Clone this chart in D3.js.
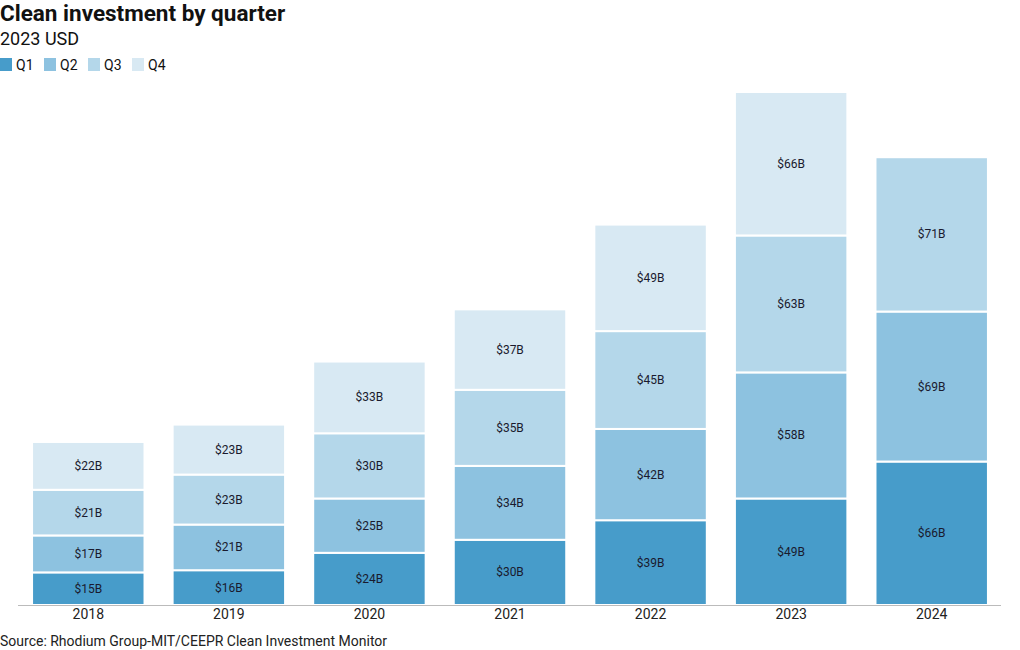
<!DOCTYPE html>
<html><head><meta charset="utf-8">
<script src="https://cdn.jsdelivr.net/npm/d3@7"></script>
<style>body{margin:0;background:#fff;font-family:Roboto,sans-serif}</style>
</head><body>
<svg id="c" width="1020" height="650"></svg>
<script>
const years = ["2018","2019","2020","2021","2022","2023","2024"];
const quarters = ["Q1","Q2","Q3","Q4"];
const q1 = [15,16,24,30,39,49,66];
const q2 = [17,21,25,34,42,58,69];
const q3 = [21,23,30,35,45,63,71];
const q4 = [22,23,33,37,49,66,null];
const colors = ["#479cca","#8dc2e0","#b4d7ea","#d8e9f3"];

const rows = years.map((y,i)=>({year:y,Q1:q1[i],Q2:q2[i],Q3:q3[i],Q4:q4[i]||0}));
const svg = d3.select("#c");
const x = d3.scaleBand().domain(years).range([18,1002]).paddingInner(0.2).paddingOuter(0.1);
const y = d3.scaleLinear().domain([0,236]).range([605,92]);
const stack = d3.stack().keys(quarters)(rows);

svg.append("text").attr("x",0).attr("y",21).attr("font-size",22.5).attr("font-weight",700).attr("fill","#111").text("Clean investment by quarter");
svg.append("text").attr("x",0).attr("y",45).attr("font-size",18).attr("fill","#111").text("2023 USD");

const lg = svg.append("g");
const lx = [0,44,88,132];
quarters.forEach((q,i)=>{
  lg.append("rect").attr("x",lx[i]).attr("y",58).attr("width",12).attr("height",13).attr("fill",colors[i]);
  lg.append("text").attr("x",lx[i]+16).attr("y",70).attr("font-size",14).attr("fill","#111").text(q);
});

stack.forEach((s,si)=>{
  const g = svg.append("g");
  s.forEach((d,i)=>{
    if(d[1]-d[0]<=0) return;
    g.append("rect").attr("x",x(years[i])).attr("width",x.bandwidth())
      .attr("y",y(d[1])).attr("height",y(d[0])-y(d[1]))
      .attr("fill",colors[si]).attr("stroke","#fff").attr("stroke-width",2);
    g.append("text").attr("x",x(years[i])+x.bandwidth()/2).attr("y",(y(d[0])+y(d[1]))/2+4)
      .attr("text-anchor","middle").attr("font-size",12).attr("fill","#1a1a2e")
      .text("$"+(d[1]-d[0])+"B");
  });
});

svg.append("line").attr("x1",18).attr("x2",1001).attr("y1",605.5).attr("y2",605.5).attr("stroke","#bbb").attr("stroke-width",1);
const xa = svg.append("g").attr("transform","translate(0,605)").call(d3.axisBottom(x).tickSize(0).tickPadding(4));
xa.select(".domain").remove();
xa.selectAll("text").attr("font-size",14).attr("font-family","Roboto,sans-serif").attr("fill","#222");

svg.append("text").attr("x",0).attr("y",646).attr("font-size",14).attr("fill","#222").text("Source: Rhodium Group-MIT/CEEPR Clean Investment Monitor");
</script>
</body></html>
